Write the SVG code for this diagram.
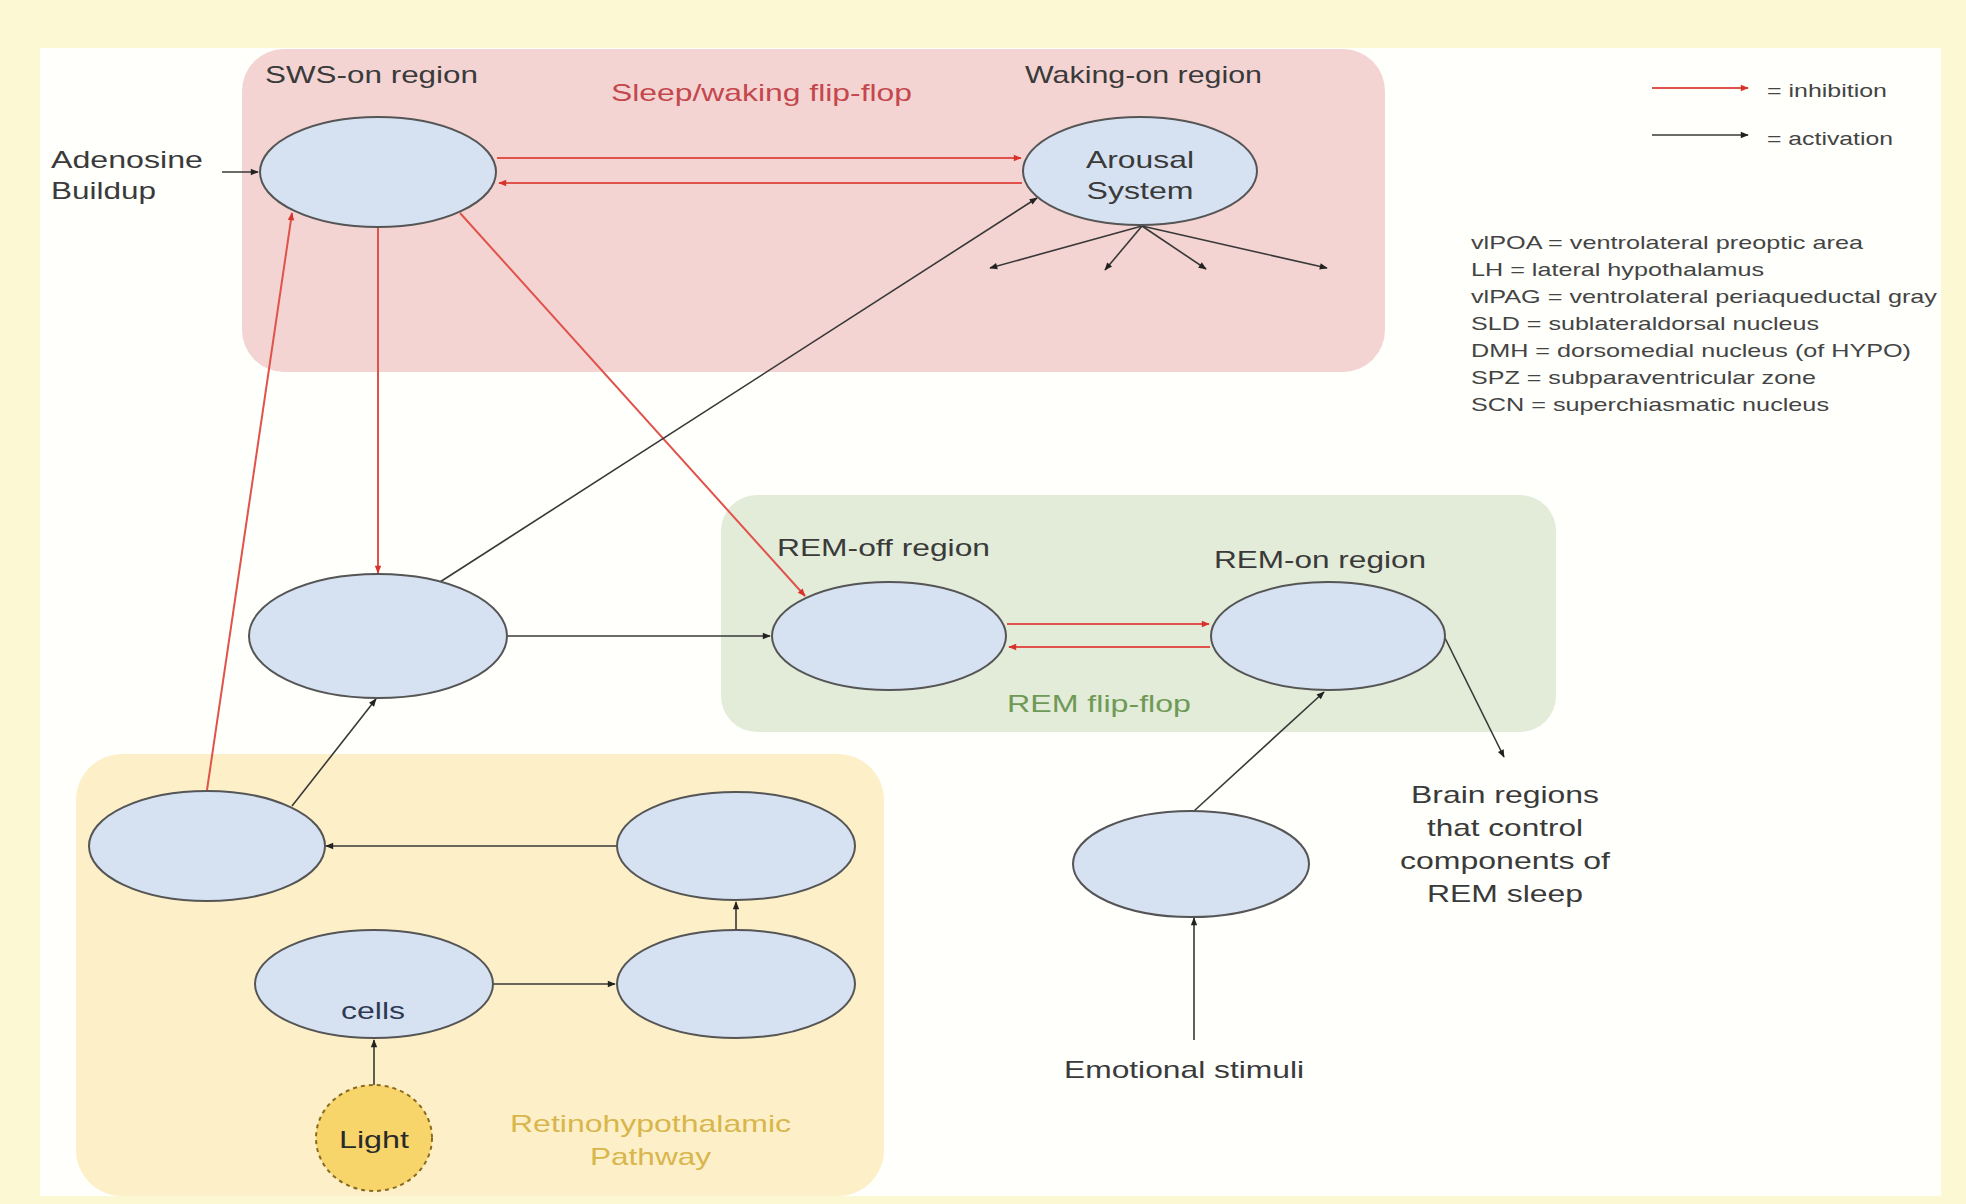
<svg xmlns="http://www.w3.org/2000/svg" width="1966" height="1204" viewBox="0 0 1966 1204">
<defs>
<style>
text{font-family:"Liberation Sans",Arial,Helvetica,sans-serif;fill:#333;font-size:24px}
.lbl{fill:#3a3a3a}
.small{font-size:19px;fill:#444}
.node{fill:#d6e2f2;stroke:#555;stroke-width:2}
.act{stroke:#383838;stroke-width:1.6;fill:none;marker-end:url(#ab)}
.inh{stroke:#e0524a;stroke-width:2;fill:none;marker-end:url(#ar)}
</style>
<marker id="ab" viewBox="0 0 10 10" refX="9" refY="5" markerWidth="9" markerHeight="8" markerUnits="userSpaceOnUse" orient="auto"><path d="M0,1 L10,5 L0,9 Z" fill="#222"/></marker>
<marker id="ar" viewBox="0 0 10 10" refX="9" refY="5" markerWidth="9" markerHeight="8" markerUnits="userSpaceOnUse" orient="auto"><path d="M0,1 L10,5 L0,9 Z" fill="#d8332b"/></marker>
</defs>
<rect x="0" y="0" width="1966" height="1204" fill="#fdf8d4"/>
<rect x="40" y="48" width="1901" height="1148" fill="#fffffc"/>

<g id="regions">
<rect id="sleep-waking" x="242" y="49" width="1143" height="323" rx="42" fill="#f4d4d2"/>
<rect id="rem-region" x="721" y="495" width="835" height="237" rx="36" fill="#e3ebd9"/>
<rect id="retino-region" x="76" y="754" width="808" height="442" rx="46" fill="#fdf0c9"/>
</g>

<g id="region-labels">
<text class="lbl" x="265" y="83" textLength="213" lengthAdjust="spacingAndGlyphs">SWS-on region</text>
<text x="611" y="101" textLength="301" lengthAdjust="spacingAndGlyphs" style="fill:#c4474d">Sleep/waking flip-flop</text>
<text class="lbl" x="1025" y="83" textLength="237" lengthAdjust="spacingAndGlyphs">Waking-on region</text>
<text class="lbl" x="777" y="556" textLength="213" lengthAdjust="spacingAndGlyphs">REM-off region</text>
<text class="lbl" x="1214" y="568" textLength="212" lengthAdjust="spacingAndGlyphs">REM-on region</text>
<text x="1007" y="712" textLength="184" lengthAdjust="spacingAndGlyphs" style="fill:#6f9a56">REM flip-flop</text>
<text x="510" y="1132" textLength="281" lengthAdjust="spacingAndGlyphs" style="fill:#d8b64c">Retinohypothalamic</text>
<text x="590" y="1165" textLength="121" lengthAdjust="spacingAndGlyphs" style="fill:#d8b64c">Pathway</text>
</g>

<g id="connectors">
<line class="act" x1="222" y1="172" x2="258" y2="172"/>
<line class="inh" x1="497" y1="158" x2="1021" y2="158"/>
<line class="inh" x1="1022" y1="183" x2="499" y2="183"/>
<line class="inh" x1="378" y1="227" x2="378" y2="573"/>
<line class="inh" x1="460" y1="213" x2="805" y2="596"/>
<line class="act" x1="440" y1="582" x2="1037" y2="198"/>
<line class="act" x1="507" y1="636" x2="770" y2="636"/>
<line class="inh" x1="1007" y1="624" x2="1209" y2="624"/>
<line class="inh" x1="1210" y1="647" x2="1009" y2="647"/>
<line class="act" x1="1445" y1="638" x2="1504" y2="757"/>
<line class="act" x1="1194" y1="811" x2="1324" y2="692"/>
<line class="act" x1="1194" y1="1040" x2="1194" y2="918"/>
<line class="act" x1="292" y1="806" x2="376" y2="699"/>
<line class="inh" x1="207" y1="790" x2="292" y2="213"/>
<line class="act" x1="617" y1="846" x2="326" y2="846"/>
<line class="act" x1="493" y1="984" x2="615" y2="984"/>
<line class="act" x1="736" y1="930" x2="736" y2="902"/>
<line class="act" x1="374" y1="1085" x2="374" y2="1040"/>
<line class="act" x1="1142" y1="226" x2="990" y2="268"/>
<line class="act" x1="1142" y1="226" x2="1105" y2="270"/>
<line class="act" x1="1142" y1="226" x2="1206" y2="269"/>
<line class="act" x1="1142" y1="226" x2="1327" y2="268"/>
</g>

<g id="sws-on"><ellipse class="node" cx="378" cy="172" rx="118" ry="55"/></g>
<g id="adenosine"><text class="lbl" x="51" y="168" textLength="152" lengthAdjust="spacingAndGlyphs">Adenosine</text><text class="lbl" x="51" y="199" textLength="105" lengthAdjust="spacingAndGlyphs">Buildup</text></g>
<g id="arousal"><ellipse class="node" cx="1140" cy="171" rx="117" ry="54"/>
<text class="lbl" x="1140" y="168" text-anchor="middle" textLength="108" lengthAdjust="spacingAndGlyphs">Arousal</text>
<text class="lbl" x="1140" y="199" text-anchor="middle" textLength="107" lengthAdjust="spacingAndGlyphs">System</text></g>
<g id="mid-node"><ellipse class="node" cx="378" cy="636" rx="129" ry="62"/></g>
<g id="rem-off"><ellipse class="node" cx="889" cy="636" rx="117" ry="54"/></g>
<g id="rem-on"><ellipse class="node" cx="1328" cy="636" rx="117" ry="54"/></g>
<g id="emotional-node"><ellipse class="node" cx="1191" cy="864" rx="118" ry="53"/></g>
<g id="brain-regions">
<text class="lbl" x="1505" y="803" text-anchor="middle" textLength="188" lengthAdjust="spacingAndGlyphs">Brain regions</text>
<text class="lbl" x="1505" y="836" text-anchor="middle" textLength="156" lengthAdjust="spacingAndGlyphs">that control</text>
<text class="lbl" x="1505" y="869" text-anchor="middle" textLength="210" lengthAdjust="spacingAndGlyphs">components of</text>
<text class="lbl" x="1505" y="902" text-anchor="middle" textLength="156" lengthAdjust="spacingAndGlyphs">REM sleep</text>
</g>
<g id="emotional-stimuli"><text class="lbl" x="1064" y="1078" textLength="240" lengthAdjust="spacingAndGlyphs">Emotional stimuli</text></g>
<g id="node-a"><ellipse class="node" cx="207" cy="846" rx="118" ry="55"/></g>
<g id="node-b"><ellipse class="node" cx="736" cy="846" rx="119" ry="54"/></g>
<g id="cells"><ellipse class="node" cx="374" cy="984" rx="119" ry="54"/>
<text x="373" y="1019" text-anchor="middle" textLength="64" lengthAdjust="spacingAndGlyphs" style="fill:#2f3a52">cells</text></g>
<g id="node-d"><ellipse class="node" cx="736" cy="984" rx="119" ry="54"/></g>
<g id="light"><ellipse cx="374" cy="1138" rx="58" ry="53" fill="#f8d56a" stroke="#8a6a20" stroke-width="2" stroke-dasharray="4,4"/>
<text x="374" y="1148" text-anchor="middle" textLength="70" lengthAdjust="spacingAndGlyphs" style="fill:#2a2a2a">Light</text></g>

<g id="legend">
<line class="inh" x1="1652" y1="88" x2="1748" y2="88"/>
<line class="act" x1="1652" y1="135" x2="1748" y2="135"/>
<text class="small" x="1767" y="97" textLength="120" lengthAdjust="spacingAndGlyphs">= inhibition</text>
<text class="small" x="1767" y="145" textLength="126" lengthAdjust="spacingAndGlyphs">= activation</text>
</g>
<g id="abbreviations">
<text class="small" x="1471" y="249" textLength="392" lengthAdjust="spacingAndGlyphs">vlPOA = ventrolateral preoptic area</text>
<text class="small" x="1471" y="276" textLength="293" lengthAdjust="spacingAndGlyphs">LH = lateral hypothalamus</text>
<text class="small" x="1471" y="303" textLength="466" lengthAdjust="spacingAndGlyphs">vlPAG = ventrolateral periaqueductal gray</text>
<text class="small" x="1471" y="330" textLength="348" lengthAdjust="spacingAndGlyphs">SLD = sublateraldorsal nucleus</text>
<text class="small" x="1471" y="357" textLength="440" lengthAdjust="spacingAndGlyphs">DMH = dorsomedial nucleus (of HYPO)</text>
<text class="small" x="1471" y="384" textLength="345" lengthAdjust="spacingAndGlyphs">SPZ = subparaventricular zone</text>
<text class="small" x="1471" y="411" textLength="358" lengthAdjust="spacingAndGlyphs">SCN = superchiasmatic nucleus</text>
</g>
</svg>
